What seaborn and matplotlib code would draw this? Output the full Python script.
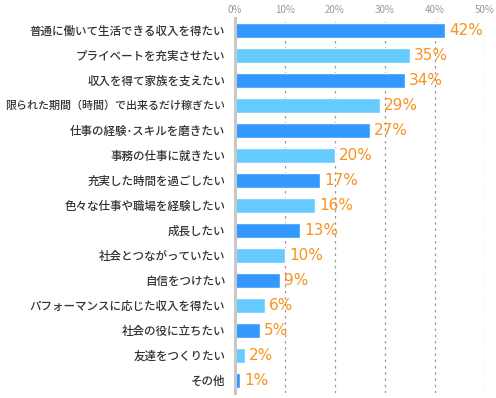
import pandas as pd
import matplotlib
matplotlib.use('Agg')
import matplotlib.pyplot as plt
import seaborn as sns

categories = [
    '普通に働いて生活できる収入を得たい',
    'プライベートを充実させたい',
    '収入を得て家族を支えたい',
    '限られた期間（時間）で出来るだけ稼ぎたい',
    '仕事の経験･スキルを磨きたい',
    '事務の仕事に就きたい',
    '充実した時間を過ごしたい',
    '色々な仕事や職場を経験したい',
    '成長したい',
    '社会とつながっていたい',
    '自信をつけたい',
    'パフォーマンスに応じた収入を得たい',
    '社会の役に立ちたい',
    '友達をつくりたい',
    'その他',
]
values = [42, 35, 34, 29, 27, 20, 17, 16, 13, 10, 9, 6, 5, 2, 1]
tick_values = [0, 10, 20, 30, 40, 50]

sns.set_theme(style='white')
plt.rcParams['font.family'] = ['Noto Sans CJK JP', 'DejaVu Sans']

df = pd.DataFrame({'label': categories, 'value': values})
palette = ['#3399FF' if i % 2 == 0 else '#66CCFF' for i in range(len(categories))]

fig = plt.figure(figsize=(4.96, 3.98), dpi=100)
ax = fig.add_axes([0.4738, 0.0138, 0.504, 0.942])

sns.barplot(data=df, x='value', y='label', hue='label', palette=palette,
            width=0.6, legend=False, saturation=1, ax=ax)

ax.set_xlim(0, 50)
ax.set_xticks(tick_values)
ax.set_xticklabels([f'{t}%' for t in tick_values], color='#999999', fontsize=7)
ax.xaxis.tick_top()
ax.tick_params(axis='x', length=0, pad=2)
ax.tick_params(axis='y', length=0, pad=7, labelsize=8.3, labelcolor='#333333')
for lbl in ax.get_yticklabels():
    lbl.set_fontweight('medium')
    if len(lbl.get_text()) > 18:
        lbl.set_fontsize(7.9)
ax.set_xlabel('')
ax.set_ylabel('')

for t in tick_values[1:]:
    ax.axvline(t, color='#999999', linestyle=(0, (2, 3)), linewidth=0.9, zorder=0)

for s in ['top', 'right', 'bottom']:
    ax.spines[s].set_visible(False)
ax.spines['left'].set_color('#C8C8C8')
ax.spines['left'].set_linewidth(2.2)

for i, v in enumerate(values):
    ax.text(v + 0.8, i, f'{v}%', va='center', ha='left',
            color='#F7931E', fontsize=11, family=['DejaVu Sans'])

fig.savefig('out.png', dpi=100)
